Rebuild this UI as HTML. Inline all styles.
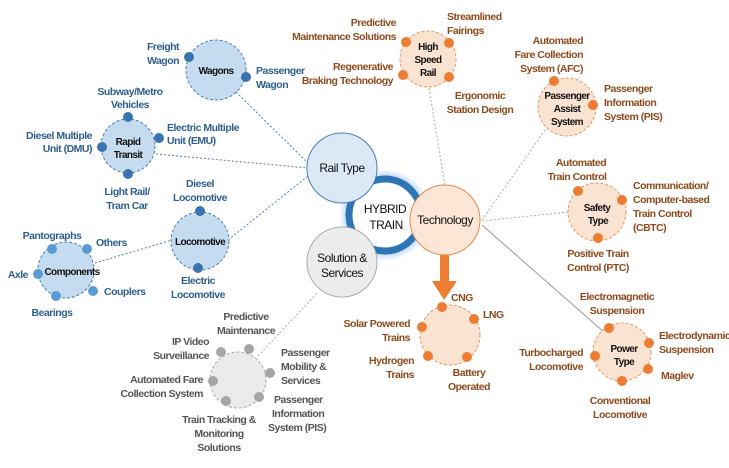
<!DOCTYPE html>
<html><head><meta charset="utf-8"><style>
html,body{margin:0;padding:0;background:#fff;}
svg text{font-family:"Liberation Sans Narrow","Liberation Sans",sans-serif;font-size:10.5px;letter-spacing:-0.5px;}
.b{fill:#2f5f8f;font-weight:bold}
.o{fill:#8e4a1c;font-weight:bold}
.g{fill:#555;font-weight:bold}
.k{fill:#111;}
.c{fill:#111;font-size:10px;font-weight:bold;letter-spacing:-0.6px}
</style></head><body>
<svg width="729" height="463" viewBox="0 0 729 463" xmlns="http://www.w3.org/2000/svg">
<defs>
<radialGradient id="glow"><stop offset="0.7" stop-color="#5b9bff" stop-opacity="0.7"/><stop offset="1" stop-color="#5b9bff" stop-opacity="0"/></radialGradient>
</defs>
<g stroke-dasharray="2,2" stroke-width="1" fill="none">
<line x1="236" y1="92" x2="310" y2="165" stroke="#4a7fb5"/>
<line x1="156" y1="154" x2="308" y2="168" stroke="#4a7fb5"/>
<line x1="228" y1="240" x2="308" y2="176" stroke="#4a7fb5"/>
<line x1="95" y1="263" x2="172" y2="240" stroke="#4a7fb5"/>
<line x1="429" y1="88" x2="445" y2="186" stroke="#aaa"/>
<line x1="545" y1="130" x2="482" y2="220" stroke="#aaa"/>
<line x1="568" y1="212" x2="482" y2="221" stroke="#aaa"/>
<line x1="482" y1="225" x2="605" y2="333" stroke="#999" stroke-dasharray="none"/>
<line x1="258" y1="356" x2="318" y2="292" stroke="#aaa"/>
</g>
<circle cx="385" cy="215" r="46" fill="url(#glow)"/>
<circle cx="385" cy="215" r="36" fill="#fff" stroke="#2e75b6" stroke-width="7"/>
<circle cx="342" cy="168" r="35" fill="#dbe9f6" stroke="#4a7fb5" stroke-width="1"/>
<circle cx="342" cy="262" r="35" fill="#ececec" stroke="#aaa" stroke-width="1"/>
<circle cx="445" cy="220" r="35" fill="#fde6d6" stroke="#e08a4e" stroke-width="1"/>
<text x="385" y="213" text-anchor="middle" class="k" style="font-size:12px">HYBRID</text>
<text x="386" y="229" text-anchor="middle" class="k" style="font-size:12px">TRAIN</text>
<text x="342" y="172" text-anchor="middle" class="k" style="font-size:12px">Rail Type</text>
<text x="342" y="262" text-anchor="middle" class="k" style="font-size:12px">Solution &amp;</text>
<text x="342" y="277" text-anchor="middle" class="k" style="font-size:12px">Services</text>
<text x="445" y="224" text-anchor="middle" class="k" style="font-size:12px">Technology</text>
<rect x="440" y="255" width="9" height="28" fill="#ed7d31"/>
<polygon points="432,281 457,281 444,300" fill="#ed7d31"/>
<g fill="#c5dbef" stroke="#4a7fb5" stroke-dasharray="3,2">
<circle cx="216" cy="70" r="30"/><circle cx="128" cy="146" r="27"/><circle cx="200" cy="241" r="29"/><circle cx="66" cy="270" r="28"/>
</g>
<g fill="#3a74b0">
<circle cx="189" cy="57" r="5"/><circle cx="246" cy="77" r="5"/>
<circle cx="128" cy="117" r="5"/><circle cx="159" cy="138" r="5"/><circle cx="102" cy="147" r="5"/><circle cx="128" cy="174" r="5"/>
<circle cx="200" cy="211" r="5"/><circle cx="198" cy="268" r="5"/>
</g>
<g fill="#5b9bd5">
<circle cx="52" cy="249" r="5"/><circle cx="87" cy="249" r="5"/><circle cx="38" cy="274" r="5"/><circle cx="56" cy="296" r="5"/><circle cx="93" cy="291" r="5"/>
</g>
<text x="216" y="74" text-anchor="middle" class="c">Wagons</text>
<text x="128" y="145" text-anchor="middle" class="c">Rapid</text>
<text x="128" y="158" text-anchor="middle" class="c">Transit</text>
<text x="200" y="245" text-anchor="middle" class="c">Locomotive</text>
<text x="72" y="275" text-anchor="middle" class="c">Components</text>
<g>
<text x="163" y="50" text-anchor="middle" class="b">Freight</text><text x="163" y="64" text-anchor="middle" class="b">Wagon</text>
<text x="256" y="74" class="b">Passenger</text><text x="256" y="88" class="b">Wagon</text>
<text x="130" y="95" text-anchor="middle" class="b">Subway/Metro</text><text x="130" y="108" text-anchor="middle" class="b">Vehicles</text>
<text x="167" y="131" class="b">Electric Multiple</text><text x="167" y="144" class="b">Unit (EMU)</text>
<text x="92" y="139" text-anchor="end" class="b">Diesel Multiple</text><text x="92" y="152" text-anchor="end" class="b">Unit (DMU)</text>
<text x="127" y="195" text-anchor="middle" class="b">Light Rail/</text><text x="127" y="209" text-anchor="middle" class="b">Tram Car</text>
<text x="200" y="187" text-anchor="middle" class="b">Diesel</text><text x="200" y="201" text-anchor="middle" class="b">Locomotive</text>
<text x="198" y="284" text-anchor="middle" class="b">Electric</text><text x="198" y="298" text-anchor="middle" class="b">Locomotive</text>
<text x="52" y="239" text-anchor="middle" class="b">Pantographs</text>
<text x="96" y="246" class="b">Others</text>
<text x="28" y="278" text-anchor="end" class="b">Axle</text>
<text x="104" y="295" class="b">Couplers</text>
<text x="52" y="316" text-anchor="middle" class="b">Bearings</text>
</g>
<g fill="#fbe3d2" stroke="#e8965c" stroke-dasharray="3,2">
<circle cx="428" cy="59" r="28"/><circle cx="567" cy="107" r="29"/><circle cx="597" cy="212" r="29"/><circle cx="622" cy="352" r="29"/><circle cx="450" cy="335" r="30"/>
</g>
<g fill="#ed7d31">
<circle cx="406" cy="42" r="5"/><circle cx="449" cy="43" r="5"/><circle cx="403" cy="75" r="5"/><circle cx="449" cy="77" r="5"/>
<circle cx="554" cy="81" r="5"/><circle cx="593" cy="105" r="5"/>
<circle cx="578" cy="191" r="5"/><circle cx="622" cy="200" r="5"/><circle cx="598" cy="238" r="5"/>
<circle cx="609" cy="328" r="5"/><circle cx="649" cy="343" r="5"/><circle cx="648" cy="369" r="5"/><circle cx="622" cy="381" r="5"/><circle cx="595" cy="356" r="5"/>
<circle cx="442" cy="307" r="5"/><circle cx="474" cy="319" r="5"/><circle cx="422" cy="327" r="5"/><circle cx="428" cy="356" r="5"/><circle cx="467" cy="357" r="5"/>
</g>
<text x="428" y="50" class="c" text-anchor="middle">High</text><text x="428" y="63" class="c" text-anchor="middle">Speed</text><text x="428" y="76" class="c" text-anchor="middle">Rail</text>
<text x="567" y="99" class="c" text-anchor="middle">Passenger</text><text x="567" y="112" class="c" text-anchor="middle">Assist</text><text x="567" y="125" class="c" text-anchor="middle">System</text>
<text x="597" y="211" class="c" text-anchor="middle">Safety</text><text x="598" y="224" class="c" text-anchor="middle">Type</text>
<text x="624" y="352" class="c" text-anchor="middle">Power</text><text x="624" y="365" class="c" text-anchor="middle">Type</text>
<g>
<text x="396" y="26" text-anchor="end" class="o">Predictive</text><text x="396" y="40" text-anchor="end" class="o">Maintenance Solutions</text>
<text x="447" y="20" class="o">Streamlined</text><text x="447" y="34" class="o">Fairings</text>
<text x="393" y="70" text-anchor="end" class="o">Regenerative</text><text x="393" y="84" text-anchor="end" class="o">Braking Technology</text>
<text x="480" y="99" text-anchor="middle" class="o">Ergonomic</text><text x="480" y="113" text-anchor="middle" class="o">Station Design</text>
<text x="583" y="44" text-anchor="end" class="o">Automated</text><text x="583" y="58" text-anchor="end" class="o">Fare Collection</text><text x="583" y="72" text-anchor="end" class="o">System (AFC)</text>
<text x="604" y="92" class="o">Passenger</text><text x="604" y="106" class="o">Information</text><text x="604" y="120" class="o">System (PIS)</text>
<text x="581" y="166" text-anchor="middle" class="o">Automated</text><text x="577" y="180" text-anchor="middle" class="o">Train Control</text>
<text x="633" y="189" class="o">Communication/</text><text x="633" y="203" class="o">Computer-based</text><text x="633" y="217" class="o">Train Control</text><text x="633" y="231" class="o">(CBTC)</text>
<text x="598" y="257" text-anchor="middle" class="o">Positive Train</text><text x="598" y="271" text-anchor="middle" class="o">Control (PTC)</text>
<text x="617" y="300" text-anchor="middle" class="o">Electromagnetic</text><text x="617" y="314" text-anchor="middle" class="o">Suspension</text>
<text x="659" y="339" class="o">Electrodynamic</text><text x="659" y="353" class="o">Suspension</text>
<text x="661" y="379" class="o">Maglev</text>
<text x="583" y="356" text-anchor="end" class="o">Turbocharged</text><text x="583" y="370" text-anchor="end" class="o">Locomotive</text>
<text x="620" y="404" text-anchor="middle" class="o">Conventional</text><text x="620" y="418" text-anchor="middle" class="o">Locomotive</text>
<text x="451" y="301" class="o">CNG</text>
<text x="483" y="318" class="o">LNG</text>
<text x="410" y="327" text-anchor="end" class="o">Solar Powered</text><text x="410" y="341" text-anchor="end" class="o">Trains</text>
<text x="414" y="364" text-anchor="end" class="o">Hydrogen</text><text x="414" y="378" text-anchor="end" class="o">Trains</text>
<text x="469" y="376" text-anchor="middle" class="o">Battery</text><text x="469" y="390" text-anchor="middle" class="o">Operated</text>
</g>
<circle cx="238" cy="380" r="28" fill="#ebebeb" stroke="#aaa" stroke-dasharray="3,2"/>
<g fill="#a6a6a6">
<circle cx="249" cy="349" r="5"/><circle cx="221" cy="352" r="5"/><circle cx="270" cy="373" r="5"/><circle cx="213" cy="381" r="5"/><circle cx="226" cy="401" r="5"/><circle cx="259" cy="397" r="5"/>
</g>
<g>
<text x="246" y="320" text-anchor="middle" class="g">Predictive</text><text x="246" y="334" text-anchor="middle" class="g">Maintenance</text>
<text x="209" y="345" text-anchor="end" class="g">IP Video</text><text x="209" y="359" text-anchor="end" class="g">Surveillance</text>
<text x="281" y="356" class="g">Passenger</text><text x="281" y="370" class="g">Mobility &amp;</text><text x="281" y="384" class="g">Services</text>
<text x="203" y="383" text-anchor="end" class="g">Automated Fare</text><text x="203" y="397" text-anchor="end" class="g">Collection System</text>
<text x="274" y="403" class="g">Passenger</text><text x="272" y="417" class="g">Information</text><text x="268" y="431" class="g">System (PIS)</text>
<text x="219" y="423" text-anchor="middle" class="g">Train Tracking &amp;</text><text x="219" y="437" text-anchor="middle" class="g">Monitoring</text><text x="219" y="451" text-anchor="middle" class="g">Solutions</text>
</g>
</svg>
</body></html>
